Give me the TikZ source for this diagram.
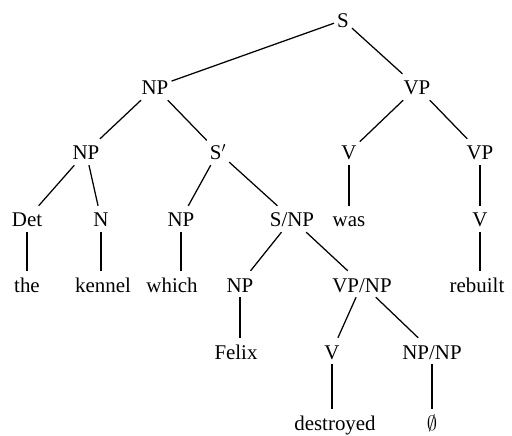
\documentclass[tikz,border=0pt]{standalone}
\usepackage{fontspec}
\setmainfont{Liberation Serif}
\begin{document}
\begin{tikzpicture}[x=1bp,y=-1bp,
  lbl/.style={font=\fontsize{21}{25}\selectfont, anchor=base,
    text height=19bp, text depth=3bp, inner xsep=3bp, inner ysep=2bp},
  edge/.style={line width=1.25bp}]
\useasboundingbox (0,0) rectangle (512,436);
% level 0
\node[lbl] (S) at (343,28) {S};
% level 1
\node[lbl] (NPa) at (155,95) {NP};
\node[lbl] (VPa) at (417,95) {VP};
% level 2
\node[lbl] (NPb) at (86,160) {NP};
\node[lbl] (Sbar) at (218,160) {S$'$};
\node[lbl] (Va) at (349,160) {V};
\node[lbl] (VPb) at (480,160) {VP};
% level 3
\node[lbl] (Det) at (27,227) {Det};
\node[lbl] (N) at (101,227) {N};
\node[lbl] (NPc) at (181,227) {NP};
\node[lbl] (SNP) at (292,227) {S/NP};
\node[lbl] (was) at (349,227) {was};
\node[lbl] (Vb) at (480,227) {V};
% level 4
\node[lbl] (the) at (27,292) {the};
\node[lbl] (kennel) at (103,292) {kennel};
\node[lbl] (which) at (172,292) {which};
\node[lbl] (NPd) at (240,292) {NP};
\node[lbl] (VPNP) at (362,292) {VP/NP};
\node[lbl] (rebuilt) at (477,292) {rebuilt};
% level 5
\node[lbl] (Felix) at (236,359) {Felix};
\node[lbl] (Vc) at (332,359) {V};
\node[lbl] (NPNP) at (432,359) {NP/NP};
% level 6
\node[lbl] (destroyed) at (335,430) {destroyed};
\node[lbl] (empty) at (432,430) {$\emptyset$};
% branches
\draw[edge] (S) -- (NPa);
\draw[edge] (S) -- (VPa);
\draw[edge] (NPa) -- (NPb);
\draw[edge] (NPa) -- (Sbar);
\draw[edge] (VPa) -- (Va);
\draw[edge] (VPa) -- (VPb);
\draw[edge] (NPb) -- (Det);
\draw[edge] (NPb) -- (N);
\draw[edge] (Sbar) -- (NPc);
\draw[edge] (Sbar) -- (SNP);
\draw[edge] (Va) -- (was);
\draw[edge] (VPb) -- (Vb);
\draw[edge] (Det) -- (Det |- the.north);
\draw[edge] (N) -- (N |- kennel.north);
\draw[edge] (NPc) -- (NPc |- which.north);
\draw[edge] (SNP) -- (NPd);
\draw[edge] (SNP) -- (VPNP);
\draw[edge] (Vb) -- (Vb |- rebuilt.north);
\draw[edge] (NPd) -- (NPd |- Felix.north);
\draw[edge] (VPNP) -- (Vc);
\draw[edge] (VPNP) -- (NPNP);
\draw[edge] (Vc) -- (Vc |- destroyed.north);
\draw[edge] (NPNP) -- (NPNP |- empty.north);
\end{tikzpicture}
\end{document}
